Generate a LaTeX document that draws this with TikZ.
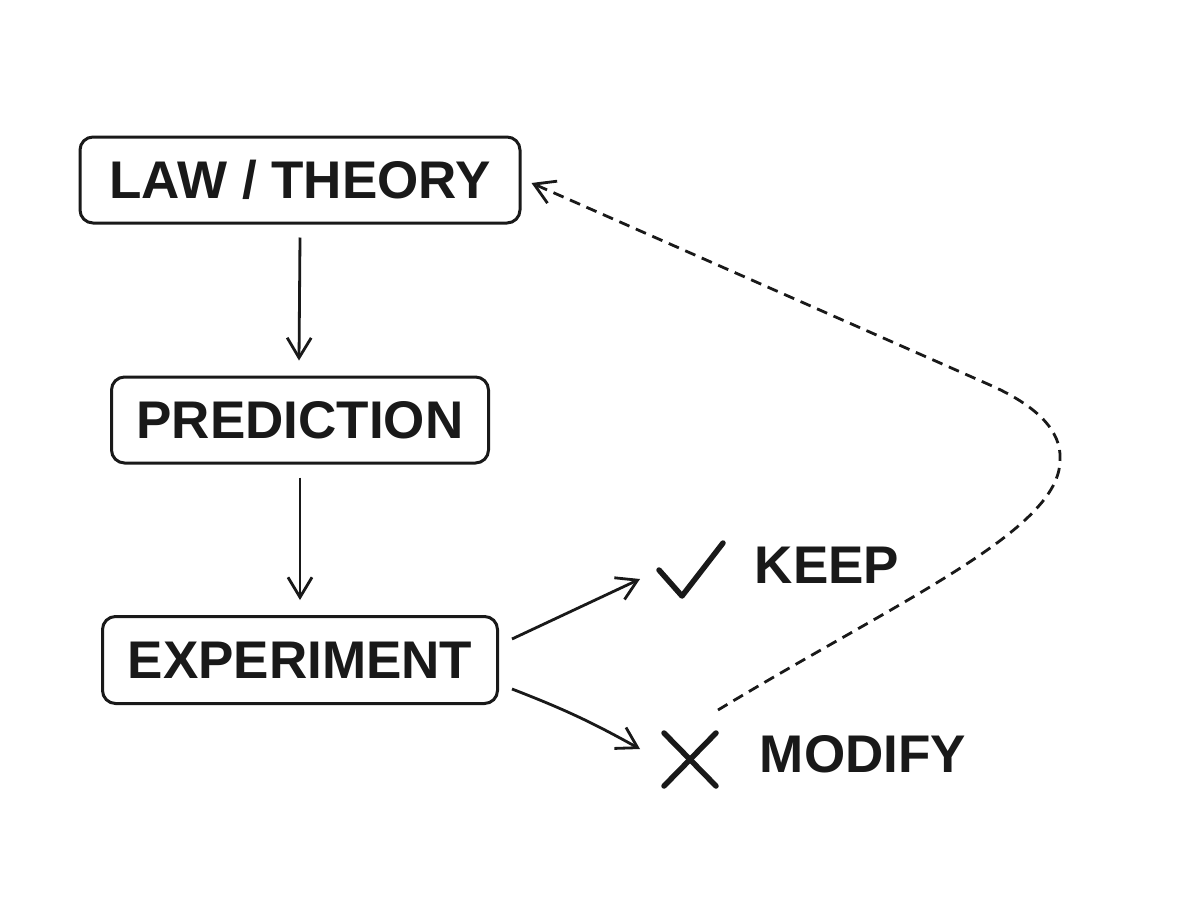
\documentclass[tikz,border=0pt]{standalone}
\usepackage{fontspec}
\setmainfont{Liberation Sans}
\usetikzlibrary{arrows.meta}
\begin{document}
\begin{tikzpicture}[x=1pt,y=-1pt,
  box/.style={draw=black!90, line width=3pt, rounded corners=13pt, fill=white},
  lbl/.style={font=\fontsize{53}{60}\selectfont\bfseries, text=black!90},
  tip/.style={-{Straight Barb[length=20pt,width=24pt,line width=2.8pt]}},
  conn/.style={draw=black!90, line width=2.8pt, tip},
  glyph/.style={draw=black!90, line width=5.5pt, line cap=round, line join=round}]
\useasboundingbox (0,0) rectangle (1200,900);
\fill[white] (0,0) rectangle (1200,900);
\node[box, minimum width=440pt, minimum height=86pt] (law) at (300,180) {};
\node[lbl] at (law.center) {LAW / THEORY};
\node[box, minimum width=377pt, minimum height=86pt] (pred) at (300,420) {};
\node[lbl] at (pred.center) {PREDICTION};
\node[box, minimum width=395pt, minimum height=87pt] (exp) at (300,660) {};
\node[lbl] at (exp.center) {EXPERIMENT};
\node[lbl] (keep) at (827,565) {KEEP};
\node[lbl] (mod) at (863,754) {MODIFY};
\coordinate (ka) at (640,579);
\coordinate (ma) at (640,749);
\coordinate (ds) at (718,710);
\draw[conn] ([shift={(0,13)}]law.south) -- ([shift={(-1,-15)}]pred.north);
\draw[conn] ([shift={(0,13)}]pred.south) -- ([shift={(0,-15)}]exp.north);
\draw[conn] ([shift={(13,-21)}]exp.east) -- (ka);
\draw[conn] ([shift={(13,29)}]exp.east) to[bend left=4] (ma);
\draw[glyph] (659,570) -- (682,596) -- (723,543);
\draw[glyph] (664,733) -- (716,786);
\draw[glyph] (716,733) -- (664,786);
\draw[draw=black!90, line width=2.8pt, dash pattern=on 11pt off 7pt, tip]
  (ds) .. controls (900,600) and (1060,530) .. (1060,460)
  .. controls (1062,430) and (1035,405) .. (990,385)
  -- ([shift={(10,3)}]law.east);
\end{tikzpicture}
\end{document}
